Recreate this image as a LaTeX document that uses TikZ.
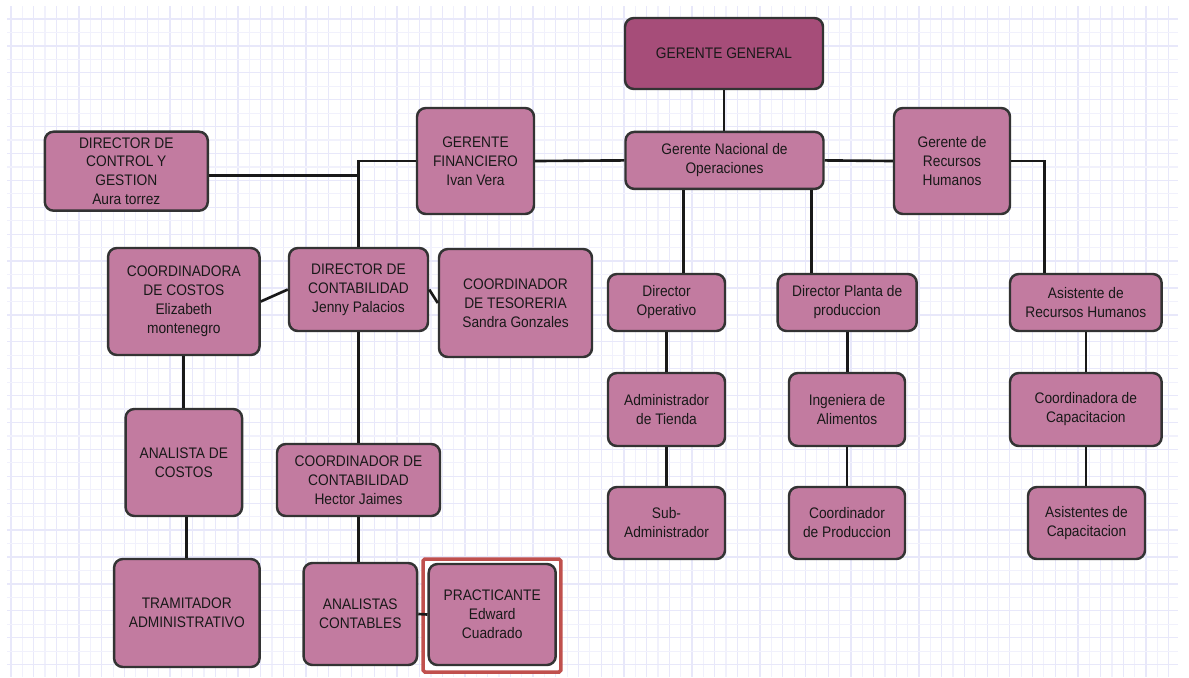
\documentclass[tikz,border=0pt]{standalone}
\usepackage{fontspec}
\setmainfont{Liberation Sans}[FakeStretch=0.9]
\usetikzlibrary{calc}
\definecolor{boxfill}{HTML}{C27BA0}
\definecolor{topfill}{HTML}{A64D79}
\definecolor{boxline}{HTML}{333333}
\definecolor{gridmajor}{HTML}{E8E8FA}
\definecolor{gridminor}{HTML}{F1F1FC}
\definecolor{markred}{HTML}{C0504D}
\begin{document}
\begin{tikzpicture}
[x=0.02cm, y=-0.02cm,
box/.style={rectangle, rounded corners=5pt, draw=boxline, line width=1.4pt, fill=boxfill, align=center, inner sep=1pt, text=black!90, font=\fontsize{8.7}{10.8}\selectfont},
sz/.style 2 args={minimum width=#1*0.02cm, minimum height=#2*0.02cm},
link/.style={line width=1.5pt, draw=black!90},
highlight/.style={rectangle, rounded corners=1pt, draw=markred, line width=2pt, fill=white}
]
\useasboundingbox (0,0) rectangle (1189,677);
\fill[white] (0,0) rectangle (1189,677);

\foreach \gx in {11,33.7,...,1178} \draw[gridmajor, line width=0.7pt] (\gx,6) -- (\gx,677);
\foreach \gx in {22.35,45.05,...,1178} \draw[gridminor, line width=0.7pt] (\gx,6) -- (\gx,677);
\foreach \gy in {19,45.9,...,677} \draw[gridmajor, line width=0.7pt] (7,\gy) -- (1178,\gy);
\foreach \gy in {32.45,59.35,...,677} \draw[gridminor, line width=0.7pt] (7,\gy) -- (1178,\gy);

\node[highlight, sz={137.7}{113}] (prFrame) at (491.9,615.5) {};

\node[box, fill=topfill, sz={198}{71}] (gg) at (724,53.5) {GERENTE GENERAL};
\node[box, sz={198}{57}] (gno) at (724.5,160.4) {Gerente Nacional de\\Operaciones};
\node[box, sz={117}{106}] (gf) at (475.5,161) {GERENTE\\FINANCIERO\\Ivan Vera};
\node[box, sz={163}{79}] (dcg) at (126.3,171.2) {DIRECTOR DE\\CONTROL Y\\GESTION\\Aura torrez};
\node[box, sz={116}{106}] (grh) at (952,161) {Gerente de\\Recursos\\Humanos};

\node[box, sz={151.5}{107}] (cc) at (183.8,301.5) {COORDINADORA\\DE COSTOS\\Elizabeth\\montenegro};
\node[box, sz={139}{83}] (dc) at (358.5,289.5) {DIRECTOR DE\\CONTABILIDAD\\Jenny Palacios};
\node[box, sz={153}{108}] (ct) at (515.5,303) {COORDINADOR\\DE TESORERIA\\Sandra Gonzales};
\node[box, sz={117}{57}] (dop) at (666.5,302.5) {Director\\Operativo};
\node[box, sz={139}{57}] (dpp) at (847.2,302.5) {Director Planta de\\produccion};
\node[box, sz={151.6}{57}] (arh) at (1085.8,302.5) {Asistente de\\Recursos Humanos};

\node[box, sz={116.5}{107}] (ac) at (183.8,462.5) {ANALISTA DE\\COSTOS};
\node[box, sz={163}{72}] (ccont) at (358.5,480) {COORDINADOR DE\\CONTABILIDAD\\Hector Jaimes};
\node[box, sz={117}{73}] (adt) at (666.5,409.5) {Administrador\\de Tienda};
\node[box, sz={116}{73}] (ia) at (847,409.5) {Ingeniera de\\Alimentos};
\node[box, sz={151.6}{73}] (ccap) at (1085.8,409.5) {Coordinadora de\\Capacitacion};

\node[box, sz={117}{72}] (sub) at (666.5,523) {Sub-\\Administrador};
\node[box, sz={116}{72}] (cp) at (847,523) {Coordinador\\de Produccion};
\node[box, sz={117}{72}] (acap) at (1086.5,523) {Asistentes de\\Capacitacion};

\node[box, sz={145.5}{108}] (ta) at (186.8,613) {TRAMITADOR\\ADMINISTRATIVO};
\node[box, sz={113.5}{102}] (acont) at (360.3,614) {ANALISTAS\\CONTABLES};
\node[box, sz={127}{101}] (pr) at (492.2,614.5) {PRACTICANTE\\Edward\\Cuadrado};

\coordinate (rhIn) at ($(arh.north)+(-41,0)$);
\coordinate (opIn) at ($(dop.north)+(17,0)$);
\coordinate (plIn) at ($(dpp.north)+(-35.5,0)$);
\coordinate (ctrlOut) at ($(dcg.east)+(0,4.5)$);

\draw[link] (gg.south) -- (gg.south |- gno.north);
\draw[link] (gf.east) -- (gno.west);
\draw[link] (gno.east) -- (grh.west);
\draw[link] (grh.east) -- (grh.east -| rhIn) -- (rhIn);
\draw[link] (opIn |- gno.south) -- (opIn);
\draw[link] (plIn |- gno.south) -- (plIn);
\draw[link] (gf.west) -- (gf.west -| dc.north) -- (dc.north);
\draw[link] (ctrlOut) -- (ctrlOut -| dc.north);
\draw[link] (dc.west) -- (cc.east);
\draw[link] (dc.east) -- (ct.west);
\draw[link] (dc.south) -- (dc.south |- ccont.north);
\draw[link] (cc.south) -- (cc.south |- ac.north);
\draw[link] (ta.north |- ac.south) -- (ta.north);
\draw[link] (ccont.south) -- (ccont.south |- acont.north);
\draw[link] (acont.east) -- (pr.west);
\draw[link] (dop.south) -- (adt.north);
\draw[link] (adt.south) -- (sub.north);
\draw[link] (dpp.south) -- (dpp.south |- ia.north);
\draw[link] (ia.south) -- (cp.north);
\draw[link] (arh.south) -- (ccap.north);
\draw[link] (ccap.south) -- (ccap.south |- acap.north);
\end{tikzpicture}
\end{document}
